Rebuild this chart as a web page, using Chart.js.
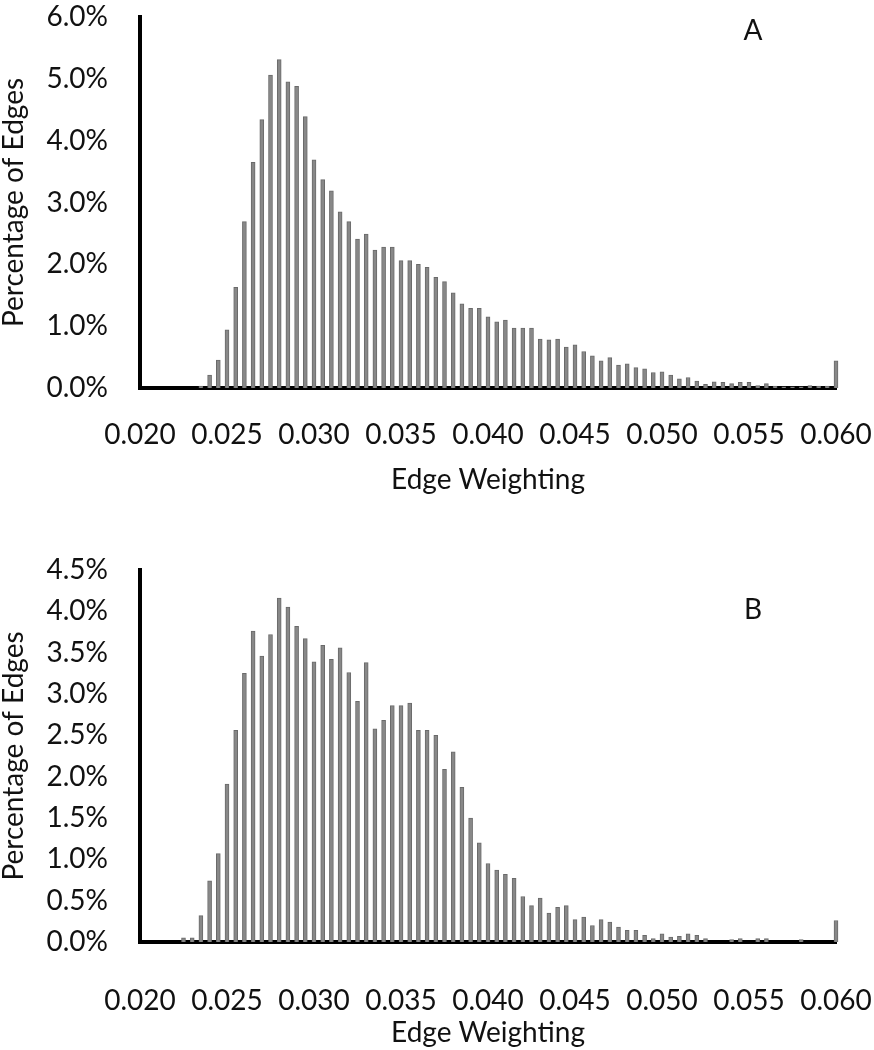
<!DOCTYPE html>
<html>
<head>
<meta charset="utf-8">
<script src="https://cdn.jsdelivr.net/npm/chart.js@4.4.1/dist/chart.umd.min.js"></script>
<style>
    body { margin: 0; background: #fff; }
    #wrap { position: relative; width: 874px; height: 1050px; overflow: hidden; }
    canvas { position: absolute; left: 0; }
    #chartA { top: 0; }
    #chartB { top: 553px; }
    .panel-tag {
        position: absolute; font-family: Lato, sans-serif; font-size: 28px; line-height: 1;
        color: #111; transform: translate(-50%, -50%);
    }
</style>
</head>
<body>
<div id="wrap">
    <canvas id="chartA" width="874" height="497"></canvas>
    <canvas id="chartB" width="874" height="497"></canvas>
    <div class="panel-tag" style="left:753px;top:29px;">A</div>
    <div class="panel-tag" style="left:753px;top:608px;">B</div>
</div>
<script>
/* bin centres (edge weighting) */
const edgeWeights = [
    0.0200, 0.0205, 0.0210, 0.0215, 0.0220, 0.0225, 0.0230, 0.0235, 0.0240, 0.0245,
    0.0250, 0.0255, 0.0260, 0.0265, 0.0270, 0.0275, 0.0280, 0.0285, 0.0290, 0.0295,
    0.0300, 0.0305, 0.0310, 0.0315, 0.0320, 0.0325, 0.0330, 0.0335, 0.0340, 0.0345,
    0.0350, 0.0355, 0.0360, 0.0365, 0.0370, 0.0375, 0.0380, 0.0385, 0.0390, 0.0395,
    0.0400, 0.0405, 0.0410, 0.0415, 0.0420, 0.0425, 0.0430, 0.0435, 0.0440, 0.0445,
    0.0450, 0.0455, 0.0460, 0.0465, 0.0470, 0.0475, 0.0480, 0.0485, 0.0490, 0.0495,
    0.0500, 0.0505, 0.0510, 0.0515, 0.0520, 0.0525, 0.0530, 0.0535, 0.0540, 0.0545,
    0.0550, 0.0555, 0.0560, 0.0565, 0.0570, 0.0575, 0.0580, 0.0585, 0.0590, 0.0595,
    0.0600
];

/* percentage of edges, panel A */
const pctA = [
    0, 0, 0, 0, 0, 0, 0, 0.03, 0.21, 0.45,
    0.94, 1.63, 2.69, 3.65, 4.34, 5.06, 5.31, 4.95, 4.88, 4.39,
    3.69, 3.37, 3.19, 2.85, 2.69, 2.41, 2.49, 2.23, 2.28, 2.28,
    2.06, 2.06, 2.00, 1.95, 1.79, 1.72, 1.54, 1.36, 1.29, 1.29,
    1.15, 1.07, 1.10, 0.97, 0.97, 0.97, 0.79, 0.78, 0.79, 0.66,
    0.70, 0.59, 0.52, 0.44, 0.49, 0.37, 0.39, 0.33, 0.31, 0.25,
    0.26, 0.21, 0.15, 0.17, 0.11, 0.06, 0.10, 0.09, 0.07, 0.09,
    0.09, 0.04, 0.07, 0.03, 0.02, 0.02, 0.02, 0.04, 0.03, 0.03,
    0.44
];

/* percentage of edges, panel B */
const pctB = [
    0, 0, 0, 0, 0, 0.05, 0.05, 0.32, 0.74, 1.07,
    1.91, 2.56, 3.25, 3.76, 3.46, 3.72, 4.16, 4.05, 3.82, 3.67,
    3.39, 3.59, 3.42, 3.56, 3.26, 2.91, 3.38, 2.58, 2.68, 2.86,
    2.86, 2.89, 2.56, 2.56, 2.50, 2.09, 2.30, 1.87, 1.50, 1.20,
    0.95, 0.87, 0.82, 0.77, 0.55, 0.44, 0.53, 0.35, 0.42, 0.44,
    0.27, 0.30, 0.20, 0.27, 0.24, 0.18, 0.14, 0.14, 0.08, 0.04,
    0.10, 0.06, 0.07, 0.10, 0.08, 0.04, 0, 0, 0.03, 0.04,
    0, 0.04, 0.04, 0, 0, 0, 0.03, 0, 0, 0,
    0.26
];

const xTickLabels = ['0.020','0.025','0.030','0.035','0.040','0.045','0.050','0.055','0.060'];

const FONT = {family: 'Lato, sans-serif', size: 28};
const INK = '#111';

function makeChart(id, values, yMax, yStep, xHeight, xPad) {
    return new Chart(document.getElementById(id), {
        type: 'bar',
        data: {
            labels: edgeWeights,
            datasets: [{
                data: values,
                backgroundColor: '#888888',
                borderColor: '#6a6a6a',
                borderWidth: 1,
                barThickness: 4,
                clip: false
            }]
        },
        options: {
            responsive: false, animation: false, devicePixelRatio: 1,
            layout: {padding: {left: 0, right: 38, top: 17, bottom: 0}},
            plugins: {legend: {display: false}, tooltip: {enabled: false}},
            scales: {
                x: {
                    offset: false,
                    grid: {display: false, drawTicks: false},
                    border: {display: true, color: '#000', width: 4},
                    ticks: {
                        autoSkip: false, maxRotation: 0, minRotation: 0,
                        padding: xPad, color: INK, font: FONT,
                        callback: (v, i) => i % 10 === 0 ? xTickLabels[i / 10] : null
                    },
                    title: {display: true, text: 'Edge Weighting', color: INK, font: FONT, padding: {top: 0, bottom: 0}},
                    afterFit: s => {
                        s.height = xHeight;
                        s.paddingLeft = 0; s.paddingRight = 0; s.paddingTop = 0; s.paddingBottom = 0;
                    }
                },
                y: {
                    min: 0, max: yMax,
                    grid: {display: false, drawTicks: false},
                    border: {display: true, color: '#000', width: 4},
                    ticks: {
                        stepSize: yStep, padding: 32, color: INK, font: FONT,
                        callback: v => v.toFixed(1) + '%'
                    },
                    title: {display: true, text: 'Percentage of Edges', color: INK,
                            font: {family: 'Lato, sans-serif', size: 28, lineHeight: 1}, padding: 0},
                    afterFit: s => {
                        s.width = 140;
                        s.paddingLeft = 0; s.paddingRight = 0; s.paddingTop = 0; s.paddingBottom = 0;
                    }
                }
            }
        }
    });
}

makeChart('chartA', pctA, 6, 1, 109, 30);
makeChart('chartB', pctB, 4.5, 0.5, 108, 42);
</script>
</body>
</html>
